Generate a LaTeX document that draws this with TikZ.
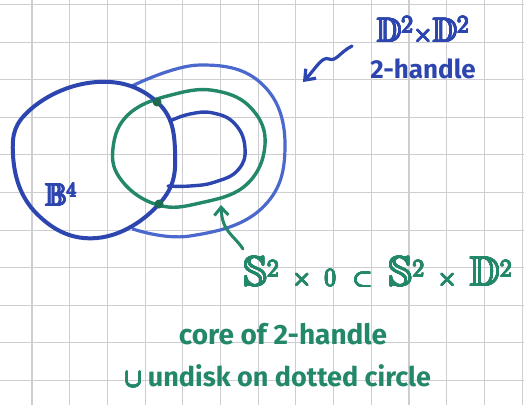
\documentclass[tikz,border=0pt]{standalone}
\usepackage{amsmath,amssymb}
\usepackage{fontspec}
\usepackage{contour}
\contourlength{0.7pt}
\setmainfont{Fira Sans}
\usetikzlibrary{arrows.meta}
\definecolor{gridc}{RGB}{205,205,210}
\definecolor{bdark}{RGB}{45,70,175}
\definecolor{blight}{RGB}{75,105,205}
\definecolor{gpen}{RGB}{35,135,105}
\tikzset{
  gridline/.style={draw=gridc, line width=1.1pt},
  bluepen/.style={draw=bdark, line width=4pt, line cap=round, line join=round},
  lightpen/.style={draw=blight, line width=3.2pt, line cap=round, line join=round},
  greenpen/.style={draw=gpen, line width=3.4pt, line cap=round, line join=round},
  bluetext/.style={text=bdark, inner sep=0pt, font=\bfseries},
  greentext/.style={text=gpen, inner sep=0pt, font=\bfseries},
  dotmark/.style={circle, fill=gpen!80!black, minimum size=9pt, inner sep=0pt},
}
\begin{document}
\begin{tikzpicture}[x=1pt,y=-1pt]
\useasboundingbox (0,0) rectangle (524,405);
\fill[white] (0,0) rectangle (524,405);
% grid
\foreach \i in {0,...,13} {
  \draw[gridline] ({32+37.7*\i},0) -- ({32+37.7*\i},405);
}
\foreach \j in {0,...,10} {
  \draw[gridline] (0,{4.5+37.6*\j}) -- (524,{4.5+37.6*\j});
}
% outer 2-handle oval (outside B4)
\draw[lightpen] plot[smooth, tension=0.72] coordinates {(132,86) (200,65) (263,85) (285,148) (261,209) (190,236) (133,229)};
% green curve
\draw[greenpen] plot[smooth cycle, tension=0.7] coordinates {(113,148) (130,113) (175,94) (217,91) (252,109) (265,145) (246,185) (200,203) (158,205) (122,181)};
% inner blue U
\draw[bdark, line width=3.4pt, line cap=round] plot[smooth, tension=0.75] coordinates {(170,121) (190,114) (213,113) (235,124) (245,148) (238,170) (215,182) (190,186) (168,186)};
% B4 ball
\draw[bluepen] plot[smooth cycle, tension=0.72] coordinates {(97,82) (156,101) (175,150) (160,203) (97,238) (37,214) (13,155) (31,109)};
% dots
\node[dotmark] (d1) at (157,102) {};
\node[dotmark] (d2) at (159,204) {};
% labels
\node[bluetext] (b4) at (61,195) {\fontsize{32}{36}\selectfont\contour{bdark}{$\mathbb{B}^{4}$}};
\node[bluetext] (dd) at (423,31) {\fontsize{34}{38}\selectfont\contour{bdark}{$\mathbb{D}^{2}{\times}\mathbb{D}^{2}$}};
\node[bluetext] (hd) at (423,69) {\fontsize{26}{30}\selectfont 2-handle};
\coordinate (a1) at (352,46);
\coordinate (a2) at (303,82);
\draw[bdark, line width=3.2pt, line cap=round, -{Straight Barb[length=9pt,width=14pt]}] (a1) .. controls (340,52) and (336,62) .. (329,59) .. controls (322,56) and (316,68) .. (a2);
\node[greentext] (ss) at (378,273) {\fontsize{42}{46}\selectfont\contour{gpen}{$\mathbb{S}^{2}\hspace{13pt}{\times}\hspace{13pt}0\hspace{17pt}{\subset}\hspace{17pt}\mathbb{S}^{2}\hspace{13pt}{\times}\hspace{13pt}\mathbb{D}^{2}$}};
\coordinate (g1) at (243,249);
\coordinate (g2) at (221,205);
\draw[gpen, line width=3pt, line cap=round, -{Straight Barb[length=8pt,width=14pt]}] (g1) .. controls (234,235) and (222,232) .. (g2);
\node[greentext] (c1) at (283,334) {\fontsize{28}{32}\selectfont core of 2-handle};
\node[greentext] (c2) at (278,376) {\fontsize{27}{32}\selectfont \contour{gpen}{$\cup$} undisk on dotted circle};
\end{tikzpicture}
\end{document}
